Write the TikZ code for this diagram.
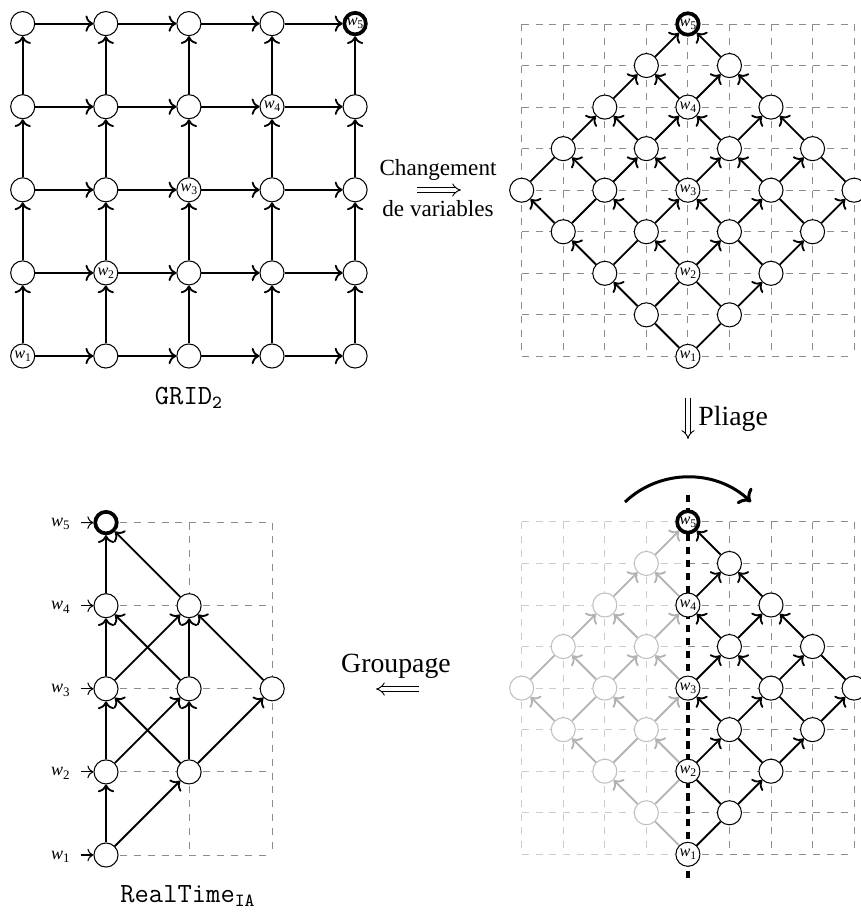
\documentclass[tikz,border=0pt]{standalone}
\usepackage{fontspec}
\setmainfont{Liberation Serif}
\usepackage{graphicx}
\usetikzlibrary{arrows.meta}
\newcommand\wl[1]{\textit{w}\kern-0.1pt\raisebox{-0.4ex}{\scalebox{0.72}{#1}}}
\begin{document}
\begin{tikzpicture}[x=0.432pt,y=-0.432pt,
  vtx/.style={circle,draw,fill=white,minimum size=10.4pt,inner sep=0pt,line width=0.45pt,font=\fontsize{7}{7.5}\selectfont},
  vtxg/.style={vtx,draw=black!25},
  vtxb/.style={vtx,minimum size=9.3pt,line width=1.6pt},
  gridl/.style={black!45,dashed,line width=0.4pt},
  gridlt/.style={black!20,dashed,line width=0.4pt},
  edg/.style={line width=0.8pt,->},
  edgn/.style={line width=0.8pt},
  dbl/.style={double,double distance=1.6pt,line width=0.4pt,-{Implies}},
  lbl/.style={inner sep=0pt},
  wlab/.style={inner sep=0pt,font=\fontsize{7.8}{8}\selectfont},
]
\useasboundingbox (0,0) rectangle (860,913);

% ---------- grids ----------
\foreach \c in {0,...,8}{
  \draw[gridl] ({521.7+41.55*\c},24) -- ({521.7+41.55*\c},356.4);
  \draw[gridl] (521.7,{356.4-41.55*\c}) -- (854.1,{356.4-41.55*\c});
}
\foreach \c in {0,...,3}{
  \draw[gridlt] ({521.7+41.55*\c},521.9) -- ({521.7+41.55*\c},854.3);
}
\foreach \c in {5,...,8}{
  \draw[gridl] ({521.7+41.55*\c},521.9) -- ({521.7+41.55*\c},854.3);
}
\foreach \r in {0,...,8}{
  \draw[gridlt] (521.7,{854.3-41.55*\r}) -- (687.9,{854.3-41.55*\r});
  \draw[gridl] (687.9,{854.3-41.55*\r}) -- (854.1,{854.3-41.55*\r});
}
\foreach \m in {1,...,5}{
  \draw[gridl] (106,{855-83.1*(\m-1)}) -- (272.2,{855-83.1*(\m-1)});
}
\draw[gridl] (189.1,522.6) -- (189.1,855);
\draw[gridl] (272.2,522.6) -- (272.2,855);

% fold line
\coordinate (vt) at (688,495);
\coordinate (vb) at (688,883);
\draw[line width=1.6pt,dash pattern=on 3.2pt off 2.4pt] (vt) -- (vb);

% ---------- GRID, diamond, folded diamond ----------
\foreach \i in {0,...,4}{
  \foreach \j in {0,...,4}{
    \def\st{vtx}\def\tx{}
    \ifnum\i=\j \pgfmathtruncatemacro\w{\i+1}\edef\tx{\noexpand\wl{\w}}\fi
    \ifnum\i=4 \ifnum\j=4 \def\st{vtxb}\fi\fi
    \node[\st] (g\i\j) at ({22.7+83.1*\i},{356-83.1*\j}) {\tx};
    \node[\st] (d\i\j) at ({521.7+41.55*(4+\i-\j)},{356.4-41.55*(\i+\j)}) {\tx};
    \ifnum\i<\j \def\st{vtxg}\fi
    \node[\st] (f\i\j) at ({521.7+41.55*(4+\i-\j)},{854.3-41.55*(\i+\j)}) {\tx};
  }
}
\foreach \i in {0,...,3}{
  \pgfmathtruncatemacro\ii{\i+1}
  \ifnum\i=0 \def\hs{edgn}\else\def\hs{edg}\fi
  \foreach \j in {0,...,4}{
    \draw[edg] (g\i\j) -- (g\ii\j);
    \draw[edg] (g\j\i) -- (g\j\ii);
    \draw[\hs] (d\i\j) -- (d\ii\j);
    \draw[\hs] (d\j\i) -- (d\j\ii);
    \ifnum\i<\j \def\ca{black!30}\else\def\ca{black}\fi
    \ifnum\j>\i \def\cb{black}\else\def\cb{black!30}\fi
    \draw[\hs,color=\ca] (f\i\j) -- (f\ii\j);
    \draw[\hs,color=\cb] (f\j\i) -- (f\j\ii);
  }
}

% ---------- RealTime ----------
\foreach \m in {1,...,4}{
  \node[vtx] (r0\m) at (106,{855-83.1*(\m-1)}) {};
}
\node[vtxb] (r05) at (106,522.6) {};
\node[vtx] (r12) at (189.1,771.9) {};
\node[vtx] (r13) at (189.1,688.8) {};
\node[vtx] (r14) at (189.1,605.7) {};
\node[vtx] (r23) at (272.2,688.8) {};
\foreach \a/\b in {r01/r02,r01/r12,r02/r03,r02/r13,r12/r03,r12/r13,r12/r23,r03/r04,r03/r14,r13/r04,r13/r14,r23/r14,r04/r05,r14/r05}{
  \draw[edg] (\a) -- (\b);
}
\foreach \m in {1,...,5}{
  \node[wlab,anchor=base east] (lw\m) at (70,{855-83.1*(\m-1)+4}) {\wl{\m}};
  \coordinate (aw\m) at (81,{855-83.1*(\m-1)});
  \draw[line width=0.45pt,->] (aw\m) -- (r0\m);
}

% ---------- fold arrow ----------
\coordinate (fa) at (625,502);
\coordinate (fb) at (751,502);
\draw[line width=1.3pt,->] (fa) .. controls (660,468.7) and (716,468.7) .. (fb);

% ---------- labels and transformation arrows ----------
\node[lbl,anchor=base] (tchg) at (438,175) {Changement};
\node[lbl,anchor=base] (tvar) at (438,216) {de variables};
\coordinate (c1) at (417,190);
\coordinate (c2) at (461,190);
\draw[dbl] (c1) -- (c2);

\node[lbl,anchor=base west,font=\large] (tpli) at (698,425) {Pliage};
\coordinate (p1) at (688,398);
\coordinate (p2) at (688,439);
\draw[dbl] (p1) -- (p2);

\node[lbl,anchor=base,font=\large] (tgrp) at (396,672) {Groupage};
\coordinate (q1) at (419,689);
\coordinate (q2) at (376,689);
\draw[dbl] (q1) -- (q2);

\node[lbl,anchor=base,font=\large] (tgrid) at (189,404) {\texttt{GRID\textsubscript{2}}};
\node[lbl,anchor=base,font=\large] (trt) at (188,902) {\texttt{RealTime\textsubscript{IA}}};
\end{tikzpicture}
\end{document}
